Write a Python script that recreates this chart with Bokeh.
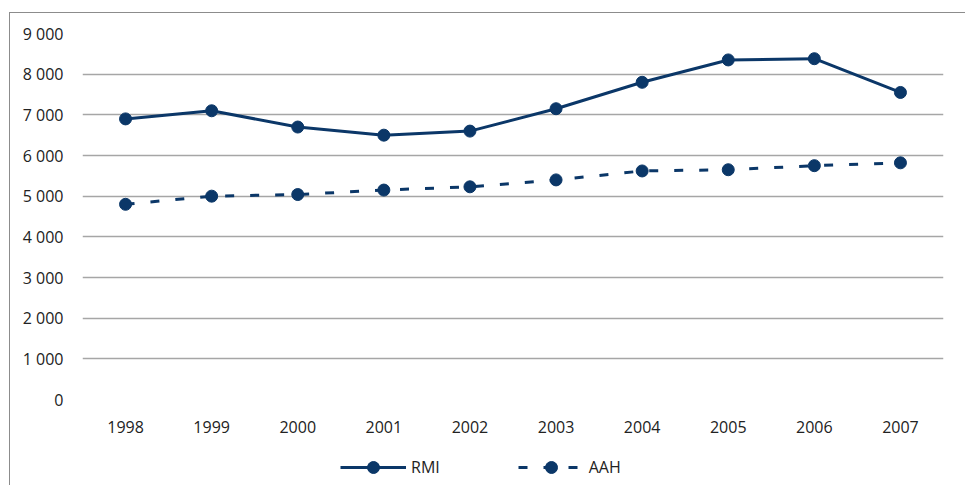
from bokeh.plotting import figure
from bokeh.layouts import column
from bokeh.models import FixedTicker, Legend, LegendItem, ColumnDataSource
from bokeh.embed import file_html
from bokeh.resources import INLINE

years = ["1998", "1999", "2000", "2001", "2002", "2003", "2004", "2005", "2006", "2007"]
rmi = [6900, 7100, 6700, 6500, 6600, 7150, 7800, 8350, 8380, 7550]
aah = [4800, 5000, 5040, 5150, 5230, 5400, 5620, 5650, 5750, 5820]
y_ticks = [0, 1000, 2000, 3000, 4000, 5000, 6000, 7000, 8000, 9000]
y_tick_labels = ["0", "1 000", "2 000", "3 000", "4 000", "5 000",
                 "6 000", "7 000", "8 000", "9 000"]

NAVY = "#0B3768"
FONT = "Open Sans"
TEXT = "#222222"
DASH = "9 16"

src = ColumnDataSource(dict(year=years, rmi=rmi, aah=aah))

p = figure(width=955, height=432, x_range=years, y_range=(0, 9000),
           output_backend="svg", toolbar_location=None,
           min_border_left=72, min_border_right=22,
           min_border_top=20, min_border_bottom=46)
p.x_range.range_padding = 0
p.outline_line_color = None
p.background_fill_color = "white"
p.border_fill_color = "white"

# axes
p.yaxis.ticker = FixedTicker(ticks=y_ticks)
p.yaxis.major_label_overrides = dict(zip(y_ticks, y_tick_labels))
for ax in (p.xaxis, p.yaxis):
    ax.axis_line_color = None
    ax.major_tick_line_color = None
    ax.minor_tick_line_color = None
    ax.major_label_text_font = FONT
    ax.major_label_text_font_size = "16px"
    ax.major_label_text_color = TEXT
p.yaxis.major_label_standoff = 13
p.xaxis.major_label_standoff = 15

p.xgrid.grid_line_color = None
p.ygrid.grid_line_color = "#A6A6A6"
p.ygrid.grid_line_width = 1.5

# series
p.line("year", "rmi", source=src, line_color=NAVY, line_width=3)
p.scatter("year", "rmi", source=src, size=12, color=NAVY)
p.line("year", "aah", source=src, line_color=NAVY, line_width=3, line_dash=DASH)
p.scatter("year", "aah", source=src, size=12, color=NAVY)

# legend strip under the chart; its sample renderers sit outside the
# visible range so only the legend entries show
leg = figure(width=955, height=40, output_backend="svg", toolbar_location=None,
             min_border_left=0, min_border_right=0, min_border_top=0,
             min_border_bottom=0, x_range=(0, 1), y_range=(0, 1))
leg.axis.visible = False
leg.grid.visible = False
leg.outline_line_color = None
off = dict(x=[-10, -9], y=[-10, -9])
r1 = leg.line("x", "y", source=ColumnDataSource(off), line_color=NAVY, line_width=3)
m1 = leg.scatter("x", "y", source=ColumnDataSource(off), size=12, color=NAVY)
r2 = leg.line("x", "y", source=ColumnDataSource(off), line_color=NAVY,
              line_width=3, line_dash=DASH)
m2 = leg.scatter("x", "y", source=ColumnDataSource(off), size=12, color=NAVY)
legend = Legend(items=[LegendItem(label="RMI", renderers=[r1, m1]),
                       LegendItem(label="AAH", renderers=[r2, m2])],
                orientation="horizontal", location=(258, 3),
                glyph_width=66, glyph_height=30, spacing=78,
                label_text_font=FONT, label_text_font_size="16px",
                label_text_color=TEXT, label_standoff=5,
                border_line_color=None, background_fill_alpha=0,
                padding=0, margin=0)
leg.add_layout(legend, "center")

layout = column(p, leg, spacing=0, margin=(12, 0, 0, 9),
                styles={"border-left": "1px solid #8C8C8C",
                        "border-top": "1px solid #8C8C8C"})

open("out.html", "w").write(file_html(layout, INLINE))
